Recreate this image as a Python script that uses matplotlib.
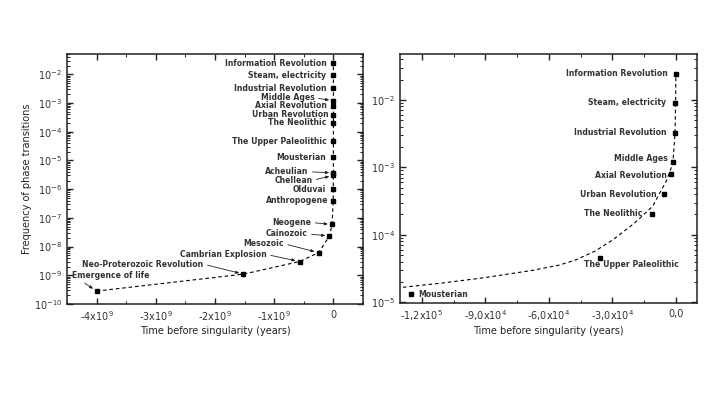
import numpy as np
import matplotlib
matplotlib.use("Agg")
import matplotlib.pyplot as plt
from matplotlib.ticker import FixedLocator, MultipleLocator, LogLocator, NullFormatter

plt.rcParams['font.family'] = ['DejaVu Sans']
plt.rcParams['mathtext.default'] = 'regular'

# ---------------- data ----------------
# Left panel: whole history (time before singularity, years; log10 frequency)
left_events = ["Information Revolution", "Steam, electricity", "Industrial Revolution",
               "Middle Ages", "Axial Revolution", "Urban Revolution", "The Neolithic",
               "The Upper Paleolithic", "Mousterian", "Acheulian", "Chellean", "Olduvai",
               "Anthropogene", "Neogene", "Cainozoic", "Mesozoic", "Cambrian Explosion",
               "Neo-Proterozoic Revolution", "Emergence of life"]
left_time = [0, -200, -500, -1500, -2500, -5500, -11000, -36000, -125000,
             -5.0e5, -1.0e6, -2.0e6, -3.0e6, -2.3e7, -6.6e7, -2.5e8, -5.7e8,
             -1.52e9, -4.0e9]
left_logf = [-1.61, -2.04, -2.49, -2.92, -3.10, -3.40, -3.69, -4.34, -4.88,
             -5.43, -5.52, -6.00, -6.41, -7.23, -7.63, -8.21, -8.52, -8.96, -9.55]

# Right panel: last 130 000 years
right_events = ["Information Revolution", "Steam, electricity", "Industrial Revolution",
                "Middle Ages", "Axial Revolution", "Urban Revolution", "The Neolithic",
                "The Upper Paleolithic", "Mousterian"]
right_time = [0, -200, -500, -1500, -2500, -5500, -11200, -35900, -125000]
right_logf = [-1.61, -2.04, -2.49, -2.92, -3.10, -3.40, -3.69, -4.34, -4.88]

# dashed fitted curve in right panel
curve_time = [-129000, -110000, -91000, -68000, -55000, -47000, -38000, -30000,
              -20000, -11000, -4300, -1400, -400, -100, 0]
curve_logf = [-4.78, -4.715, -4.64, -4.53, -4.45, -4.37, -4.24, -4.08,
              -3.84, -3.58, -3.19, -2.94, -2.50, -2.03, -1.61]

left_xticks = [-4e9, -3e9, -2e9, -1e9, 0]
left_xticklabels = ['-4x10$^9$', '-3x10$^9$', '-2x10$^9$', '-1x10$^9$', '0']
right_xticks = [-1.2e5, -9e4, -6e4, -3e4, 0]
right_xticklabels = ['-1,2x10$^5$', '-9,0x10$^4$', '-6,0x10$^4$', '-3,0x10$^4$', '0,0']
left_yticks = [1e-10, 1e-9, 1e-8, 1e-7, 1e-6, 1e-5, 1e-4, 1e-3, 1e-2]
left_yticklabels = ['10$^{-10}$', '10$^{-9}$', '10$^{-8}$', '10$^{-7}$', '10$^{-6}$',
                    '10$^{-5}$', '10$^{-4}$', '10$^{-3}$', '10$^{-2}$']
right_yticks = [1e-5, 1e-4, 1e-3, 1e-2]
right_yticklabels = ['10$^{-5}$', '10$^{-4}$', '10$^{-3}$', '10$^{-2}$']

xlabel = "Time before singularity (years)"
ylabel = "Frequency of phase transitions"

# ---------------- layout (label offsets in pixels, ha, arrow) ----------------
left_layout = {
    "Information Revolution": (-7, 0, 'right', False),
    "Steam, electricity": (-7, 0, 'right', False),
    "Industrial Revolution": (-7, 0, 'right', False),
    "Middle Ages": (-19, 3, 'right', True),
    "Axial Revolution": (-7, 0, 'right', False),
    "Urban Revolution": (-5, 0, 'right', False),
    "The Neolithic": (-7, 0, 'right', False),
    "The Upper Paleolithic": (-7, 0, 'right', False),
    "Mousterian": (-7, 0, 'right', False),
    "Acheulian": (-25, 1, 'right', True),
    "Chellean": (-21, -5, 'right', True),
    "Olduvai": (-7, 0, 'right', False),
    "Anthropogene": (-5, 0, 'right', False),
    "Neogene": (-21, 2, 'right', True),
    "Cainozoic": (-22, 2, 'right', True),
    "Mesozoic": (-35, 9, 'right', True),
    "Cambrian Explosion": (-33, 7, 'right', True),
    "Neo-Proterozoic Revolution": (-40, 10, 'right', True),
    "Emergence of life": (-25, 16, 'left', True),
}
right_layout = {
    "Information Revolution": (-8, 0, 'right'),
    "Steam, electricity": (-9, 0, 'right'),
    "Industrial Revolution": (-8, 0, 'right'),
    "Middle Ages": (-5, 3, 'right'),
    "Axial Revolution": (-4, -1, 'right'),
    "Urban Revolution": (-8, 0, 'right'),
    "The Neolithic": (-10, 0, 'right'),
    "The Upper Paleolithic": (-16, -7, 'left'),
    "Mousterian": (7, 0, 'left'),
}

W, H = 720, 393
fig = plt.figure(figsize=(W / 100, H / 100), dpi=100)
axL = fig.add_axes([67 / W, 1 - 304 / H, 296 / W, 250 / H])
axR = fig.add_axes([400 / W, 1 - 303 / H, 297 / W, 249 / H])

dash = (0, (3.2, 2.6))
txtcol = '#222222'
labcol = '#333333'
lab_fs = 5.6
lab_w = 'bold'


def style(ax):
    for s in ax.spines.values():
        s.set_linewidth(1.1)
        s.set_color('#222222')
    ax.tick_params(which='both', direction='in', top=True, right=True,
                   colors='#222222', labelcolor='#333333', labelsize=7)
    ax.tick_params(which='major', length=4, width=1.0)
    ax.tick_params(which='minor', length=2, width=0.7)
    ax.tick_params(axis='x', pad=4)


# ----- left panel -----
lt = np.array(left_time)
lf = 10 ** np.array(left_logf)
order = np.argsort(lt)
axL.plot(lt[order], lf[order], color='black', lw=0.8, ls=dash, zorder=2)
axL.plot(lt, lf, ls='none', marker='s', ms=2.2, color='black', zorder=3)
axL.set_yscale('log')
axL.set_xlim(-4.5e9, 0.5e9)
axL.set_ylim(1e-10, 0.051)
axL.xaxis.set_major_locator(FixedLocator(left_xticks))
axL.set_xticklabels(left_xticklabels)
axL.xaxis.set_minor_locator(MultipleLocator(5e8))
axL.yaxis.set_major_locator(FixedLocator(left_yticks))
axL.set_yticklabels(left_yticklabels)
axL.yaxis.set_minor_locator(LogLocator(base=10, subs=np.arange(2, 10), numticks=30))
axL.yaxis.set_minor_formatter(NullFormatter())
style(axL)
axL.set_xlabel(xlabel, fontsize=7, color=txtcol, labelpad=2)
axL.set_ylabel(ylabel, fontsize=7, color=txtcol, labelpad=1)

for name, t, f in zip(left_events, lt, lf):
    dx, dy, ha, arrow = left_layout[name]
    kw = {}
    if arrow:
        relpos = (1, 0.5) if ha == 'right' else (0.1, 0.0)
        kw['arrowprops'] = dict(arrowstyle='-|>,head_length=0.35,head_width=0.15',
                                lw=0.6, color='#222222', relpos=relpos,
                                shrinkA=1, shrinkB=3)
    axL.annotate(name, xy=(t, f), xytext=(dx, dy), textcoords='offset pixels',
                 ha=ha, va='center', fontsize=lab_fs, fontweight=lab_w,
                 color=labcol, **kw)

# ----- right panel -----
axR.plot(curve_time, 10 ** np.array(curve_logf), color='black', lw=0.8, ls=dash, zorder=2)
rt = np.array(right_time)
rf = 10 ** np.array(right_logf)
axR.plot(rt, rf, ls='none', marker='s', ms=2.2, color='black', zorder=3)
axR.set_yscale('log')
axR.set_xlim(-1.304e5, 1.0e4)
axR.set_ylim(0.97e-5, 0.048)
axR.xaxis.set_major_locator(FixedLocator(right_xticks))
axR.set_xticklabels(right_xticklabels)
axR.xaxis.set_minor_locator(MultipleLocator(1.5e4))
axR.yaxis.set_major_locator(FixedLocator(right_yticks))
axR.set_yticklabels(right_yticklabels)
axR.yaxis.set_minor_locator(LogLocator(base=10, subs=np.arange(2, 10), numticks=30))
axR.yaxis.set_minor_formatter(NullFormatter())
style(axR)
axR.set_xlabel(xlabel, fontsize=7, color=txtcol, labelpad=2)

for name, t, f in zip(right_events, rt, rf):
    dx, dy, ha = right_layout[name]
    axR.annotate(name, xy=(t, f), xytext=(dx, dy), textcoords='offset pixels',
                 ha=ha, va='center', fontsize=lab_fs, fontweight=lab_w, color=labcol)

fig.savefig('out.png', dpi=100)
